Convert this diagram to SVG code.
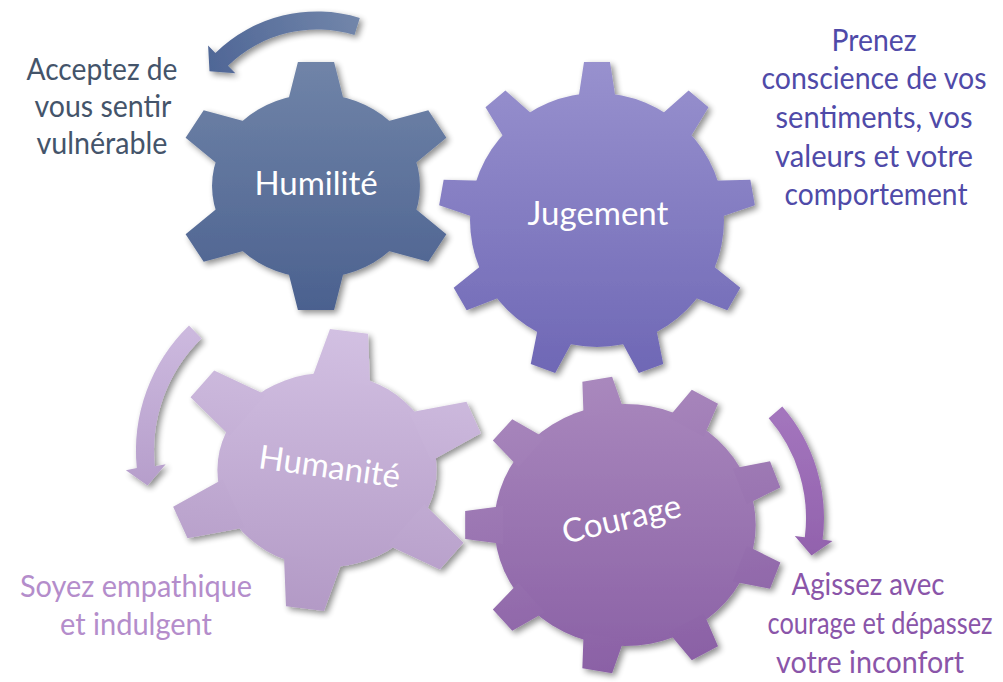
<svg xmlns="http://www.w3.org/2000/svg" width="1003" height="682" viewBox="0 0 1003 682">
<defs>
<style>
.lbl{font-family:Lato,"Open Sans","Liberation Sans",sans-serif;fill:#ffffff;text-anchor:middle;font-size:33px}
.txt{font-family:Lato,"Open Sans","Liberation Sans",sans-serif;text-anchor:middle;font-size:30px}
</style>
<filter id="sh" x="-20%" y="-20%" width="140%" height="140%">
<feGaussianBlur in="SourceAlpha" stdDeviation="3"/>
<feOffset dx="3" dy="3" result="b"/>
<feComponentTransfer><feFuncA type="linear" slope="0.45"/></feComponentTransfer>
<feMerge><feMergeNode/><feMergeNode in="SourceGraphic"/></feMerge>
</filter>
<linearGradient id="gH1" gradientUnits="userSpaceOnUse" x1="0" y1="-124" x2="0" y2="124"><stop offset="0" stop-color="#7084A8"/><stop offset="1" stop-color="#4B618F"/></linearGradient>
<linearGradient id="gJ" gradientUnits="userSpaceOnUse" x1="0" y1="-158" x2="0" y2="158"><stop offset="0" stop-color="#9891CE"/><stop offset="1" stop-color="#6E67B5"/></linearGradient>
<linearGradient id="gH2" gradientUnits="userSpaceOnUse" x1="0" y1="-140" x2="0" y2="140"><stop offset="0" stop-color="#D2C0E2"/><stop offset="1" stop-color="#B39AC6"/></linearGradient>
<linearGradient id="gC" gradientUnits="userSpaceOnUse" x1="0" y1="-148" x2="0" y2="148"><stop offset="0" stop-color="#A988BD"/><stop offset="1" stop-color="#8A60A5"/></linearGradient>
<linearGradient id="aT" gradientUnits="userSpaceOnUse" x1="360" y1="20" x2="210" y2="70"><stop offset="0" stop-color="#7286AA"/><stop offset="1" stop-color="#4F6696"/></linearGradient>
<linearGradient id="aL" gradientUnits="userSpaceOnUse" x1="0" y1="325" x2="0" y2="485"><stop offset="0" stop-color="#CDBADF"/><stop offset="1" stop-color="#B69ECB"/></linearGradient>
<linearGradient id="aR" gradientUnits="userSpaceOnUse" x1="0" y1="405" x2="0" y2="555"><stop offset="0" stop-color="#A476BE"/><stop offset="1" stop-color="#9262AD"/></linearGradient>
</defs>
<rect width="1003" height="682" fill="#ffffff"/>

<g id="connectors" filter="url(#sh)">
<path id="arrow-humilite" fill="url(#aT)" d="M359.8,17.9 A145.5,145.5 0 0 0 215.4,52.9 L208.1,45.4 L209.5,71.2 L235.3,73.3 L228.0,65.7 A127.5,127.5 0 0 1 354.5,35.1 Z"/>
<path id="arrow-humanite" fill="url(#aL)" d="M189.0,325.5 A175,175 0 0 0 136.8,468.1 L125.9,470.2 L147.6,485.6 L165.7,464.3 L154.8,466.3 A157,157 0 0 1 201.5,338.4 Z"/>
<path id="arrow-courage" fill="url(#aR)" d="M782.3,406.5 A170,170 0 0 1 822.6,539.6 L832.5,540.9 L811.5,555.4 L794.8,536.0 L804.8,537.3 A152,152 0 0 0 768.7,418.3 Z"/>
</g>

<g id="gear-humilite">
<g filter="url(#sh)"><g transform="translate(316,186) scale(1.13,1)" fill="url(#gH1)">
<circle r="92"/>
<path d="M-25,-84 L-16,-124 L16,-124 L25,-84 Z M60.25,-63.65 L99.39,-75.86 L115.39,-48.14 L85.25,-20.35 Z M85.25,20.35 L115.39,48.14 L99.39,75.86 L60.25,63.65 Z M25,84 L16,124 L-16,124 L-25,84 Z M-60.25,63.65 L-99.39,75.86 L-115.39,48.14 L-85.25,20.35 Z M-85.25,-20.35 L-115.39,-48.14 L-99.39,-75.86 L-60.25,-63.65 Z"/>
</g></g>
<text class="lbl" x="316" y="195">Humilité</text>
</g>

<g id="gear-jugement">
<g filter="url(#sh)"><g transform="translate(597,220)" fill="url(#gJ)">
<circle r="127"/>
<path d="M-19,-119 L-13,-158 L13,-158 L19,-119 Z M61.94,-103.36 L91.60,-129.39 L111.52,-112.67 L91.04,-78.94 Z M113.89,-39.37 L153.34,-40.23 L157.86,-14.63 L120.49,-1.95 Z M112.55,43.05 L143.33,67.74 L130.33,90.26 L93.55,75.95 Z M58.55,105.32 L66.26,144.02 L41.82,152.92 L22.85,118.32 Z M-22.85,118.32 L-41.82,152.92 L-66.26,144.02 L-58.55,105.32 Z M-93.55,75.95 L-130.33,90.26 L-143.33,67.74 L-112.55,43.05 Z M-120.49,-1.95 L-157.86,-14.63 L-153.34,-40.23 L-113.89,-39.37 Z M-91.04,-78.94 L-111.52,-112.67 L-91.60,-129.39 L-61.94,-103.36 Z"/>
</g></g>
<text class="lbl" x="598" y="225">Jugement</text>
</g>

<g id="gear-humanite">
<g filter="url(#sh)"><g transform="translate(327,470) scale(1.13,1)" fill="url(#gH2)">
<circle r="97"/>
<path transform="rotate(8)" d="M-26,-89 L-17,-140 L17,-140 L26,-89 Z M64.07,-67.02 L112.74,-84.72 L129.74,-55.28 L90.07,-21.98 Z M90.07,21.98 L129.74,55.28 L112.74,84.72 L64.07,67.02 Z M26,89 L17,140 L-17,140 L-26,89 Z M-64.07,67.02 L-112.74,84.72 L-129.74,55.28 L-90.07,21.98 Z M-90.07,-21.98 L-129.74,-55.28 L-112.74,-84.72 L-64.07,-67.02 Z"/>
</g></g>
<text class="lbl" transform="translate(328,478) rotate(8)" x="0" y="0">Humanité</text>
</g>

<g id="gear-courage">
<g filter="url(#sh)"><g transform="translate(625,525) scale(1.08,1)" fill="url(#gC)">
<circle r="121"/>
<path transform="rotate(-10)" d="M-19,-113 L-14,-148 L14,-148 L19,-113 Z M58.09,-98.77 L84.41,-122.37 L105.85,-104.37 L87.19,-74.35 Z M107.98,-38.33 L143.32,-39.48 L148.18,-11.90 L114.58,-0.91 Z M107.36,40.05 L135.17,61.88 L121.17,86.12 L88.36,72.95 Z M56.50,99.69 L63.78,134.29 L37.46,143.87 L20.80,112.69 Z M-20.80,112.69 L-37.46,143.87 L-63.78,134.29 L-56.50,99.69 Z M-88.36,72.95 L-121.17,86.12 L-135.17,61.88 L-107.36,40.05 Z M-114.58,-0.91 L-148.18,-11.90 L-143.32,-39.48 L-107.98,-38.33 Z M-87.19,-74.35 L-105.85,-104.37 L-84.41,-122.37 L-58.09,-98.77 Z"/>
</g></g>
<text class="lbl" transform="translate(624,530) rotate(-13)" x="0" y="0">Courage</text>
</g>

<g id="text-humilite" class="txt" fill="#44546A">
<text x="102" y="80" textLength="151" lengthAdjust="spacingAndGlyphs">Acceptez de</text>
<text x="103" y="117" textLength="137" lengthAdjust="spacingAndGlyphs">vous sentir</text>
<text x="102" y="154" textLength="131" lengthAdjust="spacingAndGlyphs">vulnérable</text>
</g>
<g id="text-jugement" class="txt" fill="#4F4AA8">
<text x="874" y="51" textLength="85" lengthAdjust="spacingAndGlyphs">Prenez</text>
<text x="874" y="89" textLength="225" lengthAdjust="spacingAndGlyphs">conscience de vos</text>
<text x="874" y="128" textLength="197" lengthAdjust="spacingAndGlyphs">sentiments, vos</text>
<text x="874" y="167" textLength="198" lengthAdjust="spacingAndGlyphs">valeurs et votre</text>
<text x="876" y="205" textLength="183" lengthAdjust="spacingAndGlyphs">comportement</text>
</g>
<g id="text-humanite" class="txt" fill="#B48DCB">
<text x="136" y="597" textLength="232" lengthAdjust="spacingAndGlyphs">Soyez empathique</text>
<text x="136" y="635" textLength="152" lengthAdjust="spacingAndGlyphs">et indulgent</text>
</g>
<g id="text-courage" class="txt" fill="#8A55A9">
<text x="868" y="595" textLength="153" lengthAdjust="spacingAndGlyphs">Agissez avec</text>
<text x="880" y="634" textLength="225" lengthAdjust="spacingAndGlyphs">courage et dépassez</text>
<text x="870" y="673" textLength="188" lengthAdjust="spacingAndGlyphs">votre inconfort</text>
</g>
</svg>
